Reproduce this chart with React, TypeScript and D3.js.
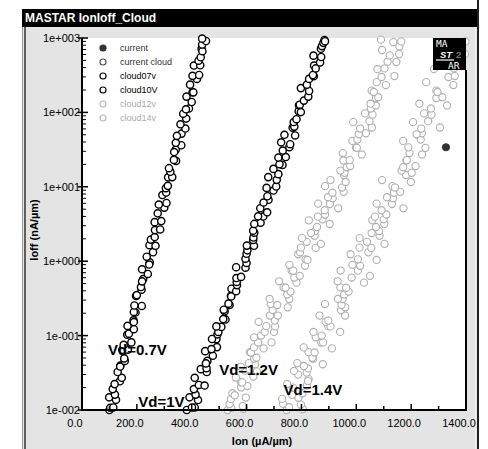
import React, { useEffect, useRef } from 'react';
import * as d3 from 'd3';

// [Ion (uA/um), Ioff (nA/um)]
const cloud07v: [number, number][] = [
  [100, 0.0100], [103, 0.0107], [114, 0.0108], [99, 0.0148], [124, 0.0137], [120, 0.0161], [112, 0.0191],
  [138, 0.0243], [119, 0.0223], [145, 0.0271], [130, 0.0324], [140, 0.0395], [139, 0.0384], [156, 0.0457],
  [154, 0.0494], [147, 0.0644], [167, 0.0647], [152, 0.0750], [180, 0.0810], [165, 0.103], [171, 0.106],
  [189, 0.122], [166, 0.135], [188, 0.160], [189, 0.152], [195, 0.204], [189, 0.208], [191, 0.254],
  [218, 0.250], [197, 0.341], [200, 0.350], [217, 0.414], [215, 0.449], [223, 0.575], [219, 0.536],
  [240, 0.674], [219, 0.778], [247, 0.967], [245, 0.902], [236, 1.15], [259, 1.32], [246, 1.64],
  [268, 1.61], [251, 1.95], [265, 2.11], [266, 2.62], [285, 2.67], [265, 3.35], [289, 3.46], [276, 4.40],
  [300, 5.25], [280, 5.77], [308, 6.06], [293, 7.75], [307, 8.38], [306, 9.59], [313, 10.3], [314, 13.4],
  [329, 13.5], [322, 15.9], [317, 17.8], [343, 22.3], [335, 23.0], [342, 31.6], [336, 29.3], [362, 36.2],
  [342, 39.0], [363, 51.9], [346, 48.4], [377, 60.7], [359, 69.2], [380, 82.6], [369, 96], [390, 113],
  [379, 110], [400, 138], [381, 163], [403, 187], [406, 186], [394, 236], [419, 282], [403, 310],
  [427, 318], [408, 426], [431, 430], [425, 495], [433, 551], [436, 716], [439, 665], [438, 818],
  [452, 912], [438, 980],
];

const cloud10v: [number, number][] = [
  [382, 0.0100], [411, 0.0108], [401, 0.0108], [392, 0.0148], [423, 0.0136], [414, 0.0161], [408, 0.0191],
  [426, 0.0217], [447, 0.0213], [411, 0.0271], [455, 0.0324], [433, 0.0354], [454, 0.0365], [457, 0.0457],
  [452, 0.0423], [477, 0.0536], [449, 0.0618], [492, 0.0700], [472, 0.0658], [490, 0.0897], [474, 0.0900],
  [494, 0.104], [497, 0.112], [508, 0.131], [490, 0.133], [523, 0.165], [515, 0.167], [520, 0.212],
  [517, 0.223], [538, 0.258], [534, 0.269], [543, 0.344], [544, 0.336], [545, 0.426], [562, 0.395],
  [565, 0.477], [564, 0.526], [563, 0.594], [580, 0.615], [596, 0.818], [562, 0.830], [600, 0.948],
  [596, 1.08], [600, 1.26], [603, 1.40], [627, 1.61], [601, 1.62], [624, 1.93], [625, 2.08], [628, 2.42],
  [624, 2.57], [651, 3.29], [628, 3.17], [661, 3.98], [642, 4.01], [675, 4.54], [650, 5.15], [680, 6.69],
  [662, 6.14], [676, 7.46], [698, 8.91], [673, 9.67], [708, 10.1], [679, 13.5], [710, 12.4], [716, 14.8],
  [698, 17.4], [731, 19.7], [720, 20.1], [716, 24.7], [743, 25.1], [732, 30.7], [756, 34.1], [726, 39.6],
  [759, 37.4], [738, 50.0], [777, 49.0], [768, 62.4], [774, 64.4], [772, 74.2], [782, 81.0], [790, 104],
  [798, 101], [791, 125], [794, 127], [809, 144], [825, 163], [798, 212], [828, 194], [820, 236],
  [828, 282], [845, 307], [842, 318], [846, 426], [852, 390], [868, 470], [844, 579], [872, 555],
  [871, 716], [875, 778], [880, 860], [884, 940], [886, 905],
];

const cloud12v: [number, number][] = [
  [531, 0.0100], [544, 0.0107], [589, 0.0104], [538, 0.0120], [586, 0.0113], [543, 0.0141], [597, 0.0147],
  [548, 0.0168], [557, 0.0158], [580, 0.0201], [603, 0.0210], [579, 0.0238], [584, 0.0235], [625, 0.0281],
  [561, 0.0273], [638, 0.0330], [595, 0.0338], [579, 0.0381], [611, 0.0353], [631, 0.0412], [608, 0.0427],
  [628, 0.0489], [636, 0.0504], [612, 0.0599], [616, 0.0593], [662, 0.0673], [627, 0.0694], [642, 0.0806],
  [691, 0.0810], [627, 0.0948], [653, 0.100], [700, 0.112], [666, 0.112], [672, 0.134], [704, 0.133],
  [644, 0.153], [703, 0.159], [714, 0.186], [685, 0.186], [695, 0.221], [750, 0.240], [688, 0.265],
  [712, 0.258], [756, 0.310], [684, 0.311], [748, 0.357], [760, 0.390], [735, 0.445], [742, 0.440],
  [782, 0.515], [719, 0.537], [774, 0.603], [794, 0.635], [764, 0.749], [770, 0.746], [813, 0.867],
  [756, 0.894], [815, 1.06], [822, 1.04], [788, 1.24], [795, 1.32], [852, 1.51], [798, 1.52], [819, 1.82],
  [871, 1.71], [802, 2.04], [848, 2.20], [850, 2.54], [835, 2.39], [857, 2.88], [903, 3.16], [827, 3.54],
  [877, 3.65], [886, 4.24], [860, 3.97], [885, 4.84], [934, 5.14], [861, 5.94], [904, 5.87], [914, 7.00],
  [897, 7.24], [913, 8.32], [954, 8.55], [886, 10.2], [948, 9.77], [961, 11.6], [906, 12.3], [955, 14.4],
  [957, 15.4], [942, 16.5], [965, 18.3], [978, 19.0], [953, 22.6], [976, 22.8], [1020, 27.2], [951, 28.4],
  [999, 33.9], [1002, 33.4], [986, 41.4], [1004, 43.1], [1035, 52.4], [1009, 50.8], [1014, 60.7],
  [1057, 62.7], [989, 74.0], [1048, 76.2], [1059, 93.3], [1032, 97], [1053, 113], [1071, 124],
  [1052, 131], [1072, 156], [1080, 160], [1056, 196], [1064, 188], [1108, 233], [1075, 255], [1092, 299],
  [1139, 308], [1077, 381], [1103, 390], [1146, 475], [1114, 480], [1122, 584], [1156, 608], [1094, 690],
  [1157, 770], [1164, 900], [1135, 880], [1090, 950],
];

const cloud14v: [number, number][] = [
  [746, 0.0100], [755, 0.0109], [805, 0.0103], [733, 0.0121], [798, 0.0118], [730, 0.0141], [789, 0.0146],
  [804, 0.0168], [766, 0.0160], [770, 0.0200], [820, 0.0214], [748, 0.0224], [826, 0.0260], [824, 0.0245],
  [788, 0.0299], [819, 0.0318], [824, 0.0362], [773, 0.0335], [809, 0.0391], [878, 0.0412], [785, 0.0427],
  [843, 0.0489], [840, 0.0504], [826, 0.0599], [848, 0.0593], [911, 0.0673], [808, 0.0694], [872, 0.0806],
  [879, 0.0810], [852, 0.0948], [874, 0.100], [941, 0.112], [844, 0.112], [898, 0.134], [906, 0.133],
  [888, 0.153], [898, 0.159], [959, 0.186], [866, 0.186], [944, 0.221], [960, 0.240], [886, 0.265],
  [946, 0.258], [950, 0.310], [933, 0.311], [956, 0.357], [972, 0.390], [942, 0.445], [963, 0.440],
  [1028, 0.515], [932, 0.537], [983, 0.603], [1050, 0.635], [943, 0.749], [1006, 0.746], [1014, 0.867],
  [986, 0.894], [1006, 1.06], [1074, 1.04], [979, 1.24], [1044, 1.32], [1055, 1.51], [1012, 1.52],
  [1039, 1.82], [1103, 1.71], [1012, 2.04], [1085, 2.20], [1083, 2.54], [1056, 2.39], [1072, 2.88],
  [1102, 3.16], [1058, 3.54], [1100, 3.65], [1110, 4.24], [1068, 3.97], [1092, 4.84], [1172, 5.14],
  [1074, 5.94], [1130, 5.87], [1134, 7.00], [1112, 7.24], [1137, 8.32], [1160, 8.55], [1132, 10.2],
  [1141, 9.77], [1199, 11.6], [1094, 12.3], [1181, 14.4], [1202, 15.4], [1165, 16.5], [1171, 18.3],
  [1216, 19.0], [1183, 22.6], [1184, 22.8], [1240, 27.2], [1194, 28.4], [1190, 33.9], [1252, 33.4],
  [1171, 41.4], [1235, 43.1], [1239, 52.4], [1220, 50.8], [1237, 60.7], [1305, 62.7], [1207, 74.0],
  [1262, 76.2], [1274, 93.3], [1247, 97], [1272, 113], [1331, 124], [1230, 131], [1292, 156], [1314, 160],
  [1292, 196], [1296, 188], [1354, 233], [1255, 255], [1336, 299], [1359, 308], [1283, 381], [1356, 390],
  [1363, 475], [1321, 480], [1320, 584], [1396, 608], [1324, 690], [1382, 770], [1398, 900], [1348, 880],
];

const currentCloud: [number, number][] = [];
const currentPoint: [number, number][] = [[1327, 34]];

const xTicks = [0, 200, 400, 600, 800, 1000, 1200, 1400];
const xMinorTicks = [100, 300, 500, 700, 900, 1100, 1300];
const yTicks = [0.01, 0.1, 1, 10, 100, 1000];
const yTickLabels = ['1e-002', '1e-001', '1e+000', '1e+001', '1e+002', '1e+003'];

const legendLabels = ['current', 'current cloud', 'cloud07v', 'cloud10V', 'cloud12v', 'cloud14v'];

const annotations: { text: string; ion: number; ioff: number }[] = [
  { text: 'Vd=0.7V', ion: 95, ioff: 0.055 },
  { text: 'Vd=1V', ion: 205, ioff: 0.011 },
  { text: 'Vd=1.2V', ion: 500, ioff: 0.0296 },
  { text: 'Vd=1.4V', ion: 735, ioff: 0.0159 },
];

const FONT = 'Arial, "Liberation Sans", sans-serif';
const BLACK_PT = '#000';
const GRAY_PT = '#b0b0b0';

export default function App() {
  const svgRef = useRef<SVGSVGElement>(null);

  useEffect(() => {
    if (!svgRef.current) return;
    const svg = d3.select(svgRef.current);
    svg.selectAll('*').remove();

    const plot = { left: 82, right: 466, top: 38, bottom: 410 };
    const x = d3.scaleLinear().domain([0, 1400]).range([plot.left, plot.right]);
    const y = d3.scaleLog().domain([0.01, 1000]).range([plot.bottom, plot.top]);

    // window frame
    svg.append('rect').attr('x', 22).attr('y', 27).attr('width', 455).attr('height', 422).attr('fill', '#e4e4e4');
    svg.append('rect').attr('x', 22).attr('y', 9).attr('width', 455).attr('height', 18).attr('fill', '#000');
    svg.append('text')
      .attr('x', 25).attr('y', 22)
      .attr('font-family', FONT).attr('font-size', 12).attr('font-weight', 'bold')
      .attr('fill', '#fff').text('MASTAR IonIoff_Cloud');
    svg.append('line').attr('x1', 22.5).attr('x2', 22.5).attr('y1', 27).attr('y2', 449).attr('stroke', '#9a9a9a');
    svg.append('line').attr('x1', 25).attr('x2', 25).attr('y1', 27).attr('y2', 449).attr('stroke', '#333').attr('stroke-width', 1.5);
    svg.append('line').attr('x1', 475.5).attr('x2', 475.5).attr('y1', 27).attr('y2', 449).attr('stroke', '#f4f4f4');
    svg.append('line').attr('x1', 478).attr('x2', 478).attr('y1', 0).attr('y2', 449).attr('stroke', '#222').attr('stroke-width', 2);

    // plot area
    svg.append('rect')
      .attr('x', plot.left).attr('y', plot.top)
      .attr('width', plot.right - plot.left).attr('height', plot.bottom - plot.top)
      .attr('fill', '#fff');

    // points
    const drawCloud = (data: [number, number][], stroke: string, width: number, fill = '#fff') => {
      svg.append('g')
        .selectAll('circle')
        .data(data)
        .join('circle')
        .attr('cx', d => x(d[0]))
        .attr('cy', d => y(d[1]))
        .attr('r', 3.6)
        .attr('fill', fill)
        .attr('stroke', stroke)
        .attr('stroke-width', width);
    };
    drawCloud(cloud14v, GRAY_PT, 1.1);
    drawCloud(cloud12v, GRAY_PT, 1.1);
    drawCloud(cloud10v, BLACK_PT, 1.4);
    drawCloud(cloud07v, BLACK_PT, 1.4);
    drawCloud(currentCloud, '#555', 1.2);
    drawCloud(currentPoint, '#333', 1, '#333');

    // logo
    const logo = svg.append('g').attr('font-family', '"DejaVu Sans Mono", monospace').attr('font-size', 9.5);
    logo.append('rect').attr('x', 433).attr('y', plot.top).attr('width', plot.right - 433).attr('height', 32).attr('fill', '#000');
    logo.append('text').attr('x', 436).attr('y', 47).attr('fill', '#fff').text('MA');
    logo.append('text').attr('x', 440).attr('y', 58).attr('font-family', FONT).attr('font-style', 'italic')
      .attr('font-weight', 'bold').attr('fill', '#fff').text('ST');
    logo.append('text').attr('x', 456).attr('y', 58).attr('font-family', FONT).attr('font-weight', 'bold')
      .attr('fill', '#777').text('2');
    logo.append('line').attr('x1', 436).attr('x2', 454).attr('y1', 60).attr('y2', 60).attr('stroke', '#fff').attr('stroke-width', 1.2);
    logo.append('text').attr('x', 448).attr('y', 69).attr('fill', '#fff').text('AR');

    // axes lines
    svg.append('line').attr('x1', plot.left).attr('x2', plot.left).attr('y1', plot.top).attr('y2', plot.bottom + 1)
      .attr('stroke', '#000').attr('stroke-width', 2);
    svg.append('line').attr('x1', plot.left - 1).attr('x2', plot.right + 1).attr('y1', plot.bottom).attr('y2', plot.bottom)
      .attr('stroke', '#000').attr('stroke-width', 2);
    svg.append('line').attr('x1', plot.right).attr('x2', plot.right).attr('y1', 70).attr('y2', plot.bottom)
      .attr('stroke', '#000').attr('stroke-width', 2);

    // y ticks
    yTicks.forEach((t, i) => {
      svg.append('line').attr('x1', plot.left - 4).attr('x2', plot.left + 6).attr('y1', y(t)).attr('y2', y(t))
        .attr('stroke', '#000').attr('stroke-width', 1.5);
      svg.append('text').attr('x', 80).attr('y', y(t) + 4).attr('text-anchor', 'end')
        .attr('font-family', FONT).attr('font-size', 11).attr('fill', '#000').text(yTickLabels[i]);
      if (i < yTicks.length - 1) {
        for (let k = 2; k < 10; k++) {
          const v = t * k;
          svg.append('line').attr('x1', plot.left).attr('x2', plot.left + 4).attr('y1', y(v)).attr('y2', y(v))
            .attr('stroke', '#000').attr('stroke-width', 1);
        }
      }
    });

    // x ticks
    xTicks.forEach(t => {
      svg.append('line').attr('x1', x(t)).attr('x2', x(t)).attr('y1', plot.bottom).attr('y2', plot.bottom - 6)
        .attr('stroke', '#000').attr('stroke-width', 1.5);
      svg.append('text').attr('x', x(t) - 7).attr('y', 427).attr('text-anchor', 'middle')
        .attr('font-family', FONT).attr('font-size', 11).attr('fill', '#000').text(t.toFixed(1));
    });
    xMinorTicks.forEach(t => {
      svg.append('line').attr('x1', x(t)).attr('x2', x(t)).attr('y1', plot.bottom).attr('y2', plot.bottom - 4)
        .attr('stroke', '#000').attr('stroke-width', 1.5);
    });

    // axis titles
    svg.append('text').attr('x', 262).attr('y', 445).attr('text-anchor', 'middle')
      .attr('font-family', FONT).attr('font-size', 11).attr('font-weight', 'bold').text('Ion (µA/µm)');
    svg.append('text').attr('transform', 'translate(38,230) rotate(-90)').attr('text-anchor', 'middle')
      .attr('font-family', FONT).attr('font-size', 11).attr('font-weight', 'bold').text('Ioff (nA/µm)');

    // legend
    const legendStroke = ['#333', '#555', '#000', '#000', '#bbb', '#bbb'];
    const legendText = ['#333', '#333', '#000', '#000', '#aaa', '#aaa'];
    legendLabels.forEach((label, i) => {
      const ly = 48 + i * 14;
      svg.append('circle').attr('cx', 103).attr('cy', ly).attr('r', 3)
        .attr('fill', i === 0 ? '#333' : '#fff').attr('stroke', legendStroke[i]).attr('stroke-width', 1.2);
      svg.append('text').attr('x', 120).attr('y', ly + 3).attr('font-family', FONT).attr('font-size', 9)
        .attr('fill', legendText[i]).text(label);
    });

    // annotations
    annotations.forEach(a => {
      svg.append('text').attr('x', x(a.ion)).attr('y', y(a.ioff))
        .attr('font-family', FONT).attr('font-size', 15).attr('font-weight', 'bold').attr('fill', '#000').text(a.text);
    });
  }, []);

  return (
    <svg
      ref={svgRef}
      width={488}
      height={449}
      style={{ position: 'absolute', left: 0, top: 0, background: '#fff' }}
    />
  );
}
